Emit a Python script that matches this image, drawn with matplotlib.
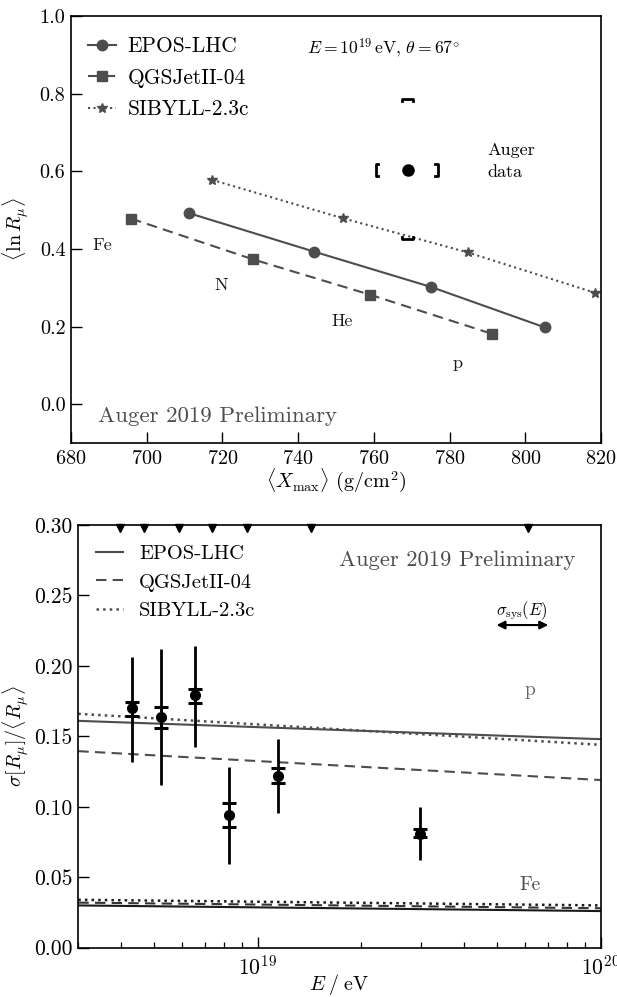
import matplotlib
matplotlib.use('Agg')
import matplotlib.pyplot as plt
import numpy as np
import matplotlib.ticker as mticker

plt.rcParams.update({
    'font.family': 'cmr10',
    'mathtext.fontset': 'cm',
    'axes.formatter.use_mathtext': True,
    'font.size': 14,
    'axes.linewidth': 1.2,
    'xtick.direction': 'in', 'ytick.direction': 'in',
    'xtick.major.size': 8, 'ytick.major.size': 8,
    'xtick.minor.size': 4.5, 'ytick.minor.size': 4.5,
    'xtick.major.width': 1.0, 'ytick.major.width': 1.0,
    'xtick.minor.width': 0.9,
    'xtick.major.pad': 5, 'ytick.major.pad': 4,
    'xtick.labelsize': 14.5, 'ytick.labelsize': 14.5,
})

# ---------------- top panel data ----------------
models = ['EPOS-LHC', 'QGSJetII-04', 'SIBYLL-2.3c']
epos_xmax = [711.2, 744.2, 775.1, 805.1]
epos_lnr = [0.492, 0.393, 0.302, 0.198]
qgs_xmax = [695.9, 728.1, 759.0, 791.3]
qgs_lnr = [0.478, 0.373, 0.282, 0.181]
sib_xmax = [717.2, 751.8, 784.8, 818.4]
sib_lnr = [0.578, 0.479, 0.391, 0.287]
primaries = ['Fe', 'N', 'He', 'p']
prim_x = [688.3, 719.6, 751.6, 782.2]
prim_y = [0.41, 0.305, 0.214, 0.106]
auger_xmax = 768.9
auger_lnr = 0.603
auger_xmax_sys = [8.4, 8.0]       # lower, upper
auger_lnr_sys = [0.178, 0.183]    # lower, upper

# ---------------- bottom panel data ----------------
E_model = [3e18, 1e20]
epos_p = [0.161, 0.148]
qgs_p = [0.1395, 0.119]
sib_p = [0.166, 0.144]
epos_fe = [0.030, 0.026]
qgs_fe = [0.032, 0.028]
sib_fe = [0.034, 0.030]
E_data = [4.30e18, 5.22e18, 6.58e18, 8.27e18, 1.15e19, 2.97e19]
sig_data = [0.170, 0.164, 0.179, 0.094, 0.122, 0.081]
stat_lo = [0.038, 0.0485, 0.0363, 0.0346, 0.0266, 0.0188]
stat_hi = [0.0365, 0.0478, 0.0351, 0.0345, 0.026, 0.019]
sys_lo = [0.0056, 0.008, 0.005, 0.0081, 0.005, 0.0026]
sys_hi = [0.0046, 0.007, 0.0044, 0.0085, 0.0053, 0.003]
bin_edges = [3.97e18, 4.67e18, 5.88e18, 7.36e18, 9.29e18, 1.43e19, 6.15e19]

gray = '0.3'
fig = plt.figure(figsize=(6.17, 9.97), dpi=100)

# ================= TOP =================
ax1 = fig.add_axes([71/617, 1-443/997, 530/617, 427/997])
ax1.plot(epos_xmax, epos_lnr, '-', marker='o', color=gray, lw=1.5, ms=7.5, label=models[0])
ax1.plot(qgs_xmax, qgs_lnr, '--', marker='s', color=gray, lw=1.5, ms=7, dashes=(5, 3), label=models[1])
ax1.plot(sib_xmax, sib_lnr, ':', marker='*', color=gray, lw=1.5, ms=7, label=models[2])
for name, x, y in zip(primaries, prim_x, prim_y):
    ax1.text(x, y, name, ha='center', va='center', fontsize=13, color='0.1')
# Auger data point
ax1.plot([auger_xmax], [auger_lnr], 'o', color='k', ms=8)
# horizontal sys brackets
hb = 0.016
xl = auger_xmax - auger_xmax_sys[0]
xr = auger_xmax + auger_xmax_sys[1]
ax1.plot([xl + 0.7, xl, xl, xl + 0.7], [auger_lnr - hb, auger_lnr - hb, auger_lnr + hb, auger_lnr + hb], color='k', lw=2)
ax1.plot([xr - 0.7, xr, xr, xr - 0.7], [auger_lnr - hb, auger_lnr - hb, auger_lnr + hb, auger_lnr + hb], color='k', lw=2)
# vertical sys brackets
hw = 1.45
yt = auger_lnr + auger_lnr_sys[1]
yb = auger_lnr - auger_lnr_sys[0]
ax1.plot([auger_xmax - hw, auger_xmax - hw, auger_xmax + hw, auger_xmax + hw], [yt - 0.006, yt, yt, yt - 0.006], color='k', lw=2)
ax1.plot([auger_xmax - hw, auger_xmax - hw, auger_xmax + hw, auger_xmax + hw], [yb + 0.006, yb, yb, yb + 0.006], color='k', lw=2)
ax1.text(790, 0.655, 'Auger', ha='left', va='center', fontsize=13)
ax1.text(790, 0.598, 'data', ha='left', va='center', fontsize=13)
ax1.text(0.445, 0.925, r'$E = 10^{19}\,\mathrm{eV},\, \theta = 67^{\circ}$', transform=ax1.transAxes,
         ha='left', va='center', fontsize=12.7)
ax1.text(0.0515, 0.063, 'Auger 2019 Preliminary', transform=ax1.transAxes, ha='left', va='center',
         fontsize=16.5, color='0.3')
ax1.set_xlim(680, 820)
ax1.set_ylim(-0.1, 1.0)
ax1.set_xticks(np.arange(680, 821, 20))
ax1.set_yticks(np.arange(0, 1.01, 0.2))
ax1.yaxis.set_major_formatter(mticker.FormatStrFormatter('%.1f'))
ax1.tick_params(top=False, right=False)
ax1.set_xlabel(r'$\langle X_{\mathrm{max}}\rangle$ (g/cm$^2$)', fontsize=14.5, labelpad=-1)
ax1.set_ylabel(r'$\langle \ln R_{\mu}\rangle$', fontsize=14.5, labelpad=6)
ax1.legend(loc='upper left', bbox_to_anchor=(0.032, 0.952), frameon=False, fontsize=15.4,
           handlelength=1.3, labelspacing=0.56, borderaxespad=0, handletextpad=0.56, borderpad=0)

# ================= BOTTOM =================
ax2 = fig.add_axes([78.3/617, 1-947.7/997, 522.4/617, 422.7/997])
ax2.set_xscale('log')
ax2.plot(E_model, epos_p, '-', color=gray, lw=1.5, label=models[0])
ax2.plot(E_model, qgs_p, '--', color=gray, lw=1.5, dashes=(5, 3), label=models[1])
ax2.plot(E_model, sib_p, ':', color=gray, lw=1.8, label=models[2])
ax2.plot(E_model, epos_fe, '-', color='0.1', lw=1.5)
ax2.plot(E_model, qgs_fe, '--', color='0.2', lw=1.5, dashes=(5, 3))
ax2.plot(E_model, sib_fe, ':', color='0.1', lw=1.8)
ax2.errorbar(E_data, sig_data, yerr=[stat_lo, stat_hi], fmt='none', ecolor='k', elinewidth=2, capsize=0)
ax2.errorbar(E_data, sig_data, yerr=[sys_lo, sys_hi], fmt='o', color='k', ms=7, elinewidth=2,
             capsize=5, capthick=2.2)
ax2.plot(bin_edges, [0.992] * len(bin_edges), 'v', color='k', ms=6,
         transform=ax2.get_xaxis_transform(), clip_on=False)
ax2.text(6.2e19, 0.183, 'p', ha='center', va='center', fontsize=14, color='0.4')
ax2.text(6.2e19, 0.0445, 'Fe', ha='center', va='center', fontsize=14, color='0.3')
ax2.annotate('', xy=(4.97e19, 0.229), xytext=(7.03e19, 0.229),
             arrowprops=dict(arrowstyle='<|-|>', color='k', lw=1.5, mutation_scale=12, shrinkA=0, shrinkB=0))
ax2.text(5.9e19, 0.2395, r'$\sigma_{\mathrm{sys}}(E)$', ha='center', va='center', fontsize=12)
ax2.text(0.952, 0.917, 'Auger 2019 Preliminary', transform=ax2.transAxes, ha='right', va='center',
         fontsize=16.3, color='0.3')
ax2.set_xlim(3e18, 1e20)
ax2.set_ylim(0, 0.30)
ax2.set_yticks(np.arange(0, 0.301, 0.05))
ax2.yaxis.set_major_formatter(mticker.FormatStrFormatter('%.2f'))
ax2.tick_params(which='both', top=False, right=False, labelsize=15.5)
ax2.set_xlabel(r'$E\;/\;\mathrm{eV}$', fontsize=14.5, labelpad=-5)
ax2.set_ylabel(r'$\sigma[R_{\mu}]/\langle R_{\mu}\rangle$', fontsize=14.5, labelpad=2)
ax2.legend(loc='upper left', bbox_to_anchor=(0.034, 0.953), frameon=False, fontsize=14.8,
           handlelength=1.3, labelspacing=0.48, borderaxespad=0, handletextpad=0.8, borderpad=0)

fig.savefig('out.png', dpi=100)
